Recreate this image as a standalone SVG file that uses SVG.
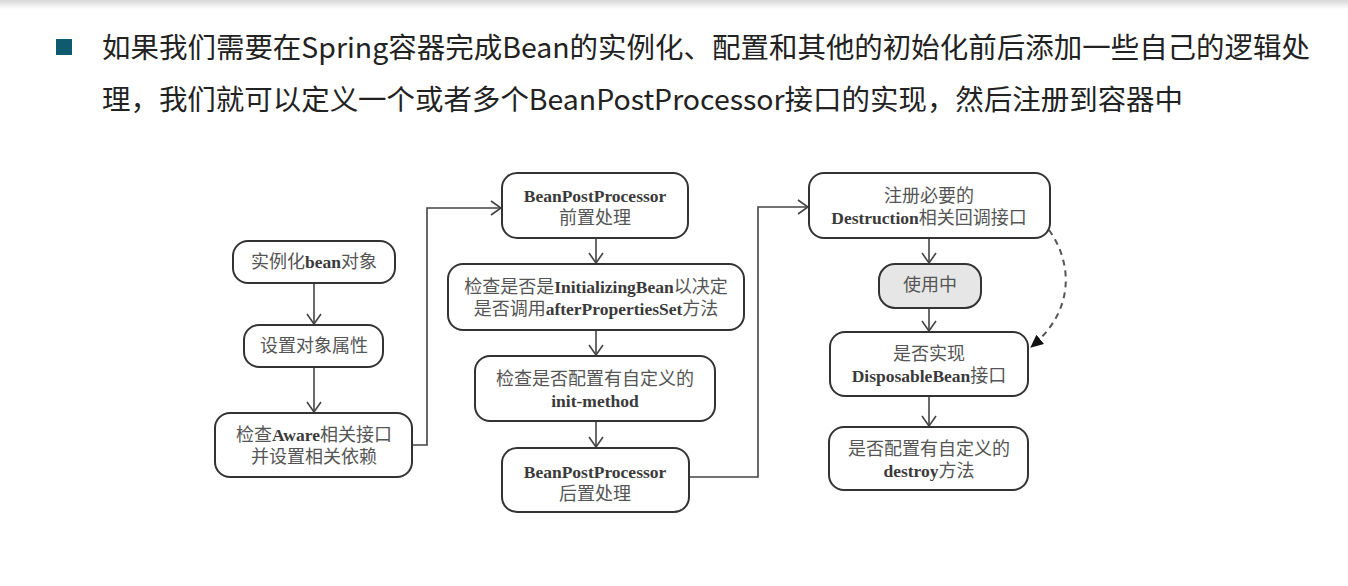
<svg xmlns="http://www.w3.org/2000/svg" width="1348" height="586" viewBox="0 0 1348 586">
<defs>
  <linearGradient id="topband" x1="0" y1="0" x2="0" y2="1">
    <stop offset="0" stop-color="#d6d6d6"/>
    <stop offset="1" stop-color="#ffffff"/>
  </linearGradient>
  <marker id="open" viewBox="-1 -9 12 18" refX="10" refY="0" markerWidth="12" markerHeight="18" markerUnits="userSpaceOnUse" orient="auto">
    <path d="M0,-7 L10,0 L0,7" fill="none" stroke="#444" stroke-width="1.6"/>
  </marker>
  <marker id="filled" viewBox="0 -6 13 12" refX="12" refY="0" markerWidth="13" markerHeight="12" markerUnits="userSpaceOnUse" orient="auto">
    <path d="M0,-6 L13,0 L0,6 Z" fill="#111"/>
  </marker>
</defs>
<style>
  .box { fill: #ffffff; stroke: #333; stroke-width: 2; }
  .gray { fill: #e6e6e6; }
  .t { font-family: "Liberation Serif", "Noto Sans CJK SC", serif; font-size: 18px; fill: #555; text-anchor: middle; }
  .lat { font-family: "Liberation Serif", serif; font-size: 17.5px; font-weight: bold; fill: #3a3a3a; }
  .head { font-family: "Noto Sans CJK SC", "Noto Sans", sans-serif; font-size: 28px; fill: #222; }
  .conn { fill: none; stroke: #444; stroke-width: 1.6; }
  .dash { fill: none; stroke: #555; stroke-width: 2; stroke-dasharray: 6 5; }
</style>
<rect x="0" y="0" width="1348" height="586" fill="#ffffff"/>
<rect x="0" y="0" width="1348" height="9" fill="url(#topband)"/>

<g id="heading">
  <rect x="56" y="39" width="16" height="16" fill="#0f5a6e"/>
  <text class="head" x="102" y="58" textLength="1208" lengthAdjust="spacingAndGlyphs">如果我们需要在Spring容器完成Bean的实例化、配置和其他的初始化前后添加一些自己的逻辑处</text>
  <text class="head" x="102" y="110" textLength="1081" lengthAdjust="spacingAndGlyphs">理，我们就可以定义一个或者多个BeanPostProcessor接口的实现，然后注册到容器中</text>
</g>

<g id="connectors">
  <line class="conn" x1="314" y1="283" x2="314" y2="324" marker-end="url(#open)"/>
  <line class="conn" x1="314" y1="367" x2="314" y2="412" marker-end="url(#open)"/>
  <polyline class="conn" points="412,445 427,445 427,208 501,208" marker-end="url(#open)"/>
  <line class="conn" x1="596" y1="238" x2="596" y2="263" marker-end="url(#open)"/>
  <line class="conn" x1="596" y1="330" x2="596" y2="355" marker-end="url(#open)"/>
  <line class="conn" x1="596" y1="421" x2="596" y2="447" marker-end="url(#open)"/>
  <polyline class="conn" points="689,477 758,477 758,207 808,207" marker-end="url(#open)"/>
  <line class="conn" x1="929" y1="238" x2="929" y2="263" marker-end="url(#open)"/>
  <line class="conn" x1="929" y1="308" x2="929" y2="331" marker-end="url(#open)"/>
  <line class="conn" x1="929" y1="396" x2="929" y2="426" marker-end="url(#open)"/>
  <path class="dash" d="M1049,230 C1072,262 1076,310 1031,347" marker-end="url(#filled)"/>
</g>

<g id="n-instantiate">
  <rect class="box" x="233" y="241" width="162" height="42" rx="15"/>
  <text class="t" x="314" y="268">实例化<tspan class="lat">bean</tspan>对象</text>
</g>
<g id="n-setprops">
  <rect class="box" x="244" y="325" width="139" height="42" rx="15"/>
  <text class="t" x="314" y="352">设置对象属性</text>
</g>
<g id="n-aware">
  <rect class="box" x="215" y="413" width="197" height="64" rx="15"/>
  <text class="t" x="314" y="441">检查<tspan class="lat">Aware</tspan>相关接口</text>
  <text class="t" x="314" y="463">并设置相关依赖</text>
</g>
<g id="n-bpp-before">
  <rect class="box" x="502" y="173" width="186" height="65" rx="15"/>
  <text class="t" x="595" y="202"><tspan class="lat">BeanPostProcessor</tspan></text>
  <text class="t" x="595" y="224">前置处理</text>
</g>
<g id="n-initializing">
  <rect class="box" x="448" y="264" width="296" height="66" rx="15"/>
  <text class="t" x="596" y="293">检查是否是<tspan class="lat">InitializingBean</tspan>以决定</text>
  <text class="t" x="596" y="315">是否调用<tspan class="lat">afterPropertiesSet</tspan>方法</text>
</g>
<g id="n-initmethod">
  <rect class="box" x="475" y="356" width="240" height="65" rx="15"/>
  <text class="t" x="595" y="385">检查是否配置有自定义的</text>
  <text class="t" x="595" y="407"><tspan class="lat">init-method</tspan></text>
</g>
<g id="n-bpp-after">
  <rect class="box" x="502" y="448" width="187" height="64" rx="15"/>
  <text class="t" x="595" y="478"><tspan class="lat">BeanPostProcessor</tspan></text>
  <text class="t" x="595" y="500">后置处理</text>
</g>
<g id="n-destruction">
  <rect class="box" x="809" y="173" width="241" height="65" rx="15"/>
  <text class="t" x="929" y="202">注册必要的</text>
  <text class="t" x="929" y="224"><tspan class="lat">Destruction</tspan>相关回调接口</text>
</g>
<g id="n-inuse">
  <rect class="box gray" x="879" y="264" width="102" height="44" rx="16"/>
  <text class="t" x="930" y="291">使用中</text>
</g>
<g id="n-disposable">
  <rect class="box" x="830" y="332" width="198" height="64" rx="15"/>
  <text class="t" x="929" y="360">是否实现</text>
  <text class="t" x="929" y="382"><tspan class="lat">DisposableBean</tspan>接口</text>
</g>
<g id="n-destroy">
  <rect class="box" x="829" y="427" width="199" height="63" rx="15"/>
  <text class="t" x="929" y="455">是否配置有自定义的</text>
  <text class="t" x="929" y="477"><tspan class="lat">destroy</tspan>方法</text>
</g>
</svg>
